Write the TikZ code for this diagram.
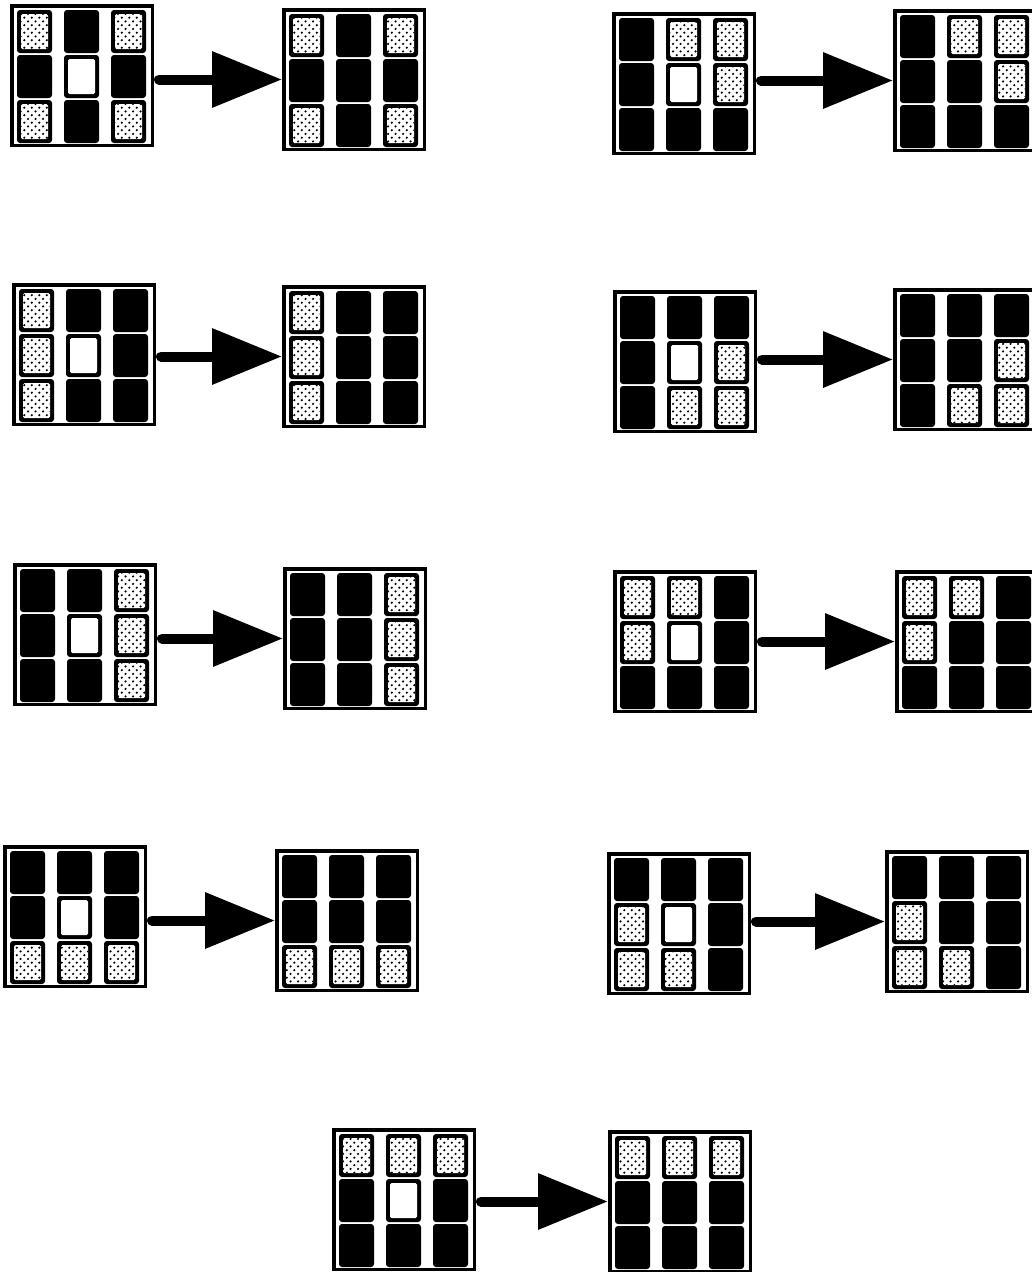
\documentclass[tikz,border=0pt]{standalone}
\usetikzlibrary{arrows.meta,patterns}
\pgfdeclarepatternformonly{fdots}{\pgfqpoint{-1pt}{-1pt}}{\pgfqpoint{8.5pt}{8.5pt}}{\pgfqpoint{7.5pt}{7.5pt}}{%
  \pgfpathcircle{\pgfqpoint{1.8pt}{1.8pt}}{1.2pt}%
  \pgfpathcircle{\pgfqpoint{5.55pt}{5.55pt}}{1.2pt}%
  \pgfusepath{fill}}
\tikzset{
  gridframe/.style={rectangle, draw=black, line width=3.5pt, fill=white, minimum width=140.5pt, minimum height=139.5pt, inner sep=0pt},
  bigarrow/.style={line width=10pt, line cap=round, -{Triangle[length=70pt,width=54pt]}, shorten <=5pt},
  blkcell/.style={fill=black, rounded corners=3pt},
  whtcell/.style={fill=white, rounded corners=1.5pt},
  dotcell/.style={pattern=fdots, pattern color=black, rounded corners=1.5pt},
}
\newcommand\mygrid[4]{%
  \node[gridframe] (#1) at (#2+72,#3+71.5) {};
  \foreach \c [count=\k from 0] in {#4} {
    \pgfmathtruncatemacro\cj{mod(\k,3)}
    \pgfmathtruncatemacro\ci{div(\k,3)}
    \pgfmathsetmacro\xa{#2+7+47*\cj}
    \pgfmathsetmacro\ya{#3+6+45*\ci}
    \fill[blkcell] (\xa,\ya) rectangle ++(35,43);
    \if\c B\else
      \fill[whtcell] (\xa+4,\ya+4) rectangle ++(27,35);
      \if\c D
        \fill[dotcell] (\xa+4,\ya+4) rectangle ++(27,35);
      \fi
    \fi
  }%
}
\begin{document}
\begin{tikzpicture}[x=1pt,y=-1pt]
\useasboundingbox (0,0) rectangle (1032,1272);
\clip (0,0) rectangle (1032,1272);
\fill[white] (0,0) rectangle (1032,1272);
% panel 1
\mygrid{a1}{10}{4}{D,B,D,B,W,B,D,B,D}
\mygrid{b1}{282}{8}{D,B,D,B,B,B,D,B,D}
% panel 2
\mygrid{a2}{612}{12}{B,D,D,B,W,D,B,B,B}
\mygrid{b2}{893}{9}{B,D,D,B,B,D,B,B,B}
% panel 3
\mygrid{a3}{12}{283}{D,B,B,D,W,B,D,B,B}
\mygrid{b3}{282}{285}{D,B,B,D,B,B,D,B,B}
% panel 4
\mygrid{a4}{613}{290}{B,B,B,B,W,D,B,D,D}
\mygrid{b4}{893}{288}{B,B,B,B,B,D,B,D,D}
% panel 5
\mygrid{a5}{13}{563}{B,B,D,B,W,D,B,B,D}
\mygrid{b5}{283}{567}{B,B,D,B,B,D,B,B,D}
% panel 6
\mygrid{a6}{613}{570}{D,D,B,D,W,B,B,B,B}
\mygrid{b6}{895}{570}{D,D,B,D,B,B,B,B,B}
% panel 7
\mygrid{a7}{3}{845}{B,B,B,B,W,B,D,D,D}
\mygrid{b7}{275}{849}{B,B,B,B,B,B,D,D,D}
% panel 8
\mygrid{a8}{607}{852}{B,B,B,D,W,B,D,D,B}
\mygrid{b8}{885}{850}{B,B,B,D,B,B,D,D,B}
% panel 9
\mygrid{a9}{332}{1128}{D,D,D,B,W,B,B,B,B}
\mygrid{b9}{608}{1130}{D,D,D,B,B,B,B,B,B}
% arrows
\foreach \n in {1,...,9} {
  \draw[bigarrow] (a\n.east |- b\n.west) -- (b\n.west);
}
\end{tikzpicture}
\end{document}
